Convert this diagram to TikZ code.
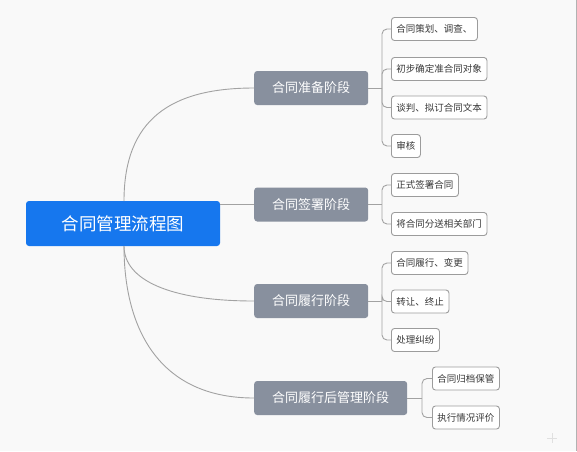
\documentclass[tikz,border=0pt]{standalone}
\usepackage{fontspec}
\setmainfont{Noto Sans CJK SC}
\definecolor{bg}{HTML}{F9F9F9}
\definecolor{rootblue}{HTML}{1677EE}
\definecolor{stagegray}{HTML}{88909E}
\definecolor{linegray}{HTML}{A2A2A2}
\definecolor{leafborder}{HTML}{9C9C9C}
\definecolor{leaftext}{HTML}{383838}
\begin{document}
\begin{tikzpicture}[x=1pt,y=-1pt,
  rootbox/.style={fill=rootblue, text=white, rounded corners=3pt, minimum width=194pt, minimum height=45pt, inner sep=0pt, font=\fontsize{17.5}{20}\selectfont},
  stagebox/.style={fill=stagegray, text=white, rounded corners=3pt, minimum height=34pt, inner xsep=18pt, inner ysep=0pt, anchor=west, font=\fontsize{13}{15}\selectfont},
  leafbox/.style={draw=leafborder, line width=0.9pt, fill=white, text=leaftext, rounded corners=3pt, minimum height=23pt, inner xsep=5pt, inner ysep=0pt, anchor=west, font=\fontsize{9.5}{11}\selectfont},
  conn/.style={draw=linegray, line width=0.9pt},
  branch/.style={conn, rounded corners=5pt}
]
\useasboundingbox (0,0) rectangle (577,451);
\fill[bg] (0,0) rectangle (577,451);
\draw[color=black!30, line width=1pt] (576,0) -- (576,451);
% faint plus
\draw[color=black!12, line width=0.8pt] (547,438) -- (557,438) (552,433) -- (552,443);

% root
\node[rootbox] (root) at (123,223.5) {合同管理流程图};

% stages
\node[stagebox] (s1) at (254,88) {合同准备阶段};
\node[stagebox] (s2) at (254,204.5) {合同签署阶段};
\node[stagebox] (s3) at (254,301) {合同履行阶段};
\node[stagebox] (s4) at (254,398) {合同履行后管理阶段};

% root connectors
\coordinate (rt) at (124,201);
\coordinate (rb) at (124,246);
\draw[conn] (rt) .. controls (124,120) and (170,88) .. (s1.west);
\draw[conn] (root.east |- s2.west) -- (s2.west);
\draw[conn] (rb) .. controls (124,280) and (170,301) .. (s3.west);
\draw[conn] (rb) .. controls (124,330) and (160,398) .. (s4.west);

% leaves
\node[leafbox] (l1) at (391,29) {合同策划、调查、};
\node[leafbox] (l2) at (391,69) {初步确定准合同对象};
\node[leafbox] (l3) at (391,107.5) {谈判、拟订合同文本};
\node[leafbox] (l4) at (391,146) {审核};
\node[leafbox] (l5) at (391,185) {正式签署合同};
\node[leafbox] (l6) at (391,224) {将合同分送相关部门};
\node[leafbox] (l7) at (391,263) {合同履行、变更};
\node[leafbox] (l8) at (391,301.5) {转让、终止};
\node[leafbox] (l9) at (391,340) {处理纠纷};
\node[leafbox] (l10) at (432,378.5) {合同归档保管};
\node[leafbox] (l11) at (432,417.5) {执行情况评价};

% junctions
\coordinate (j1) at (382,88);
\coordinate (j2) at (382,204.5);
\coordinate (j3) at (382,301);
\coordinate (j4) at (422,398);
\draw[conn] (s1.east) -- (j1);
\draw[conn] (s2.east) -- (j2);
\draw[conn] (s3.east) -- (j3);
\draw[conn] (s4.east) -- (j4);
\foreach \l in {l1,l2,l3,l4} \draw[branch] (j1) |- (\l.west);
\foreach \l in {l5,l6} \draw[branch] (j2) |- (\l.west);
\foreach \l in {l7,l8,l9} \draw[branch] (j3) |- (\l.west);
\foreach \l in {l10,l11} \draw[branch] (j4) |- (\l.west);
\end{tikzpicture}
\end{document}
